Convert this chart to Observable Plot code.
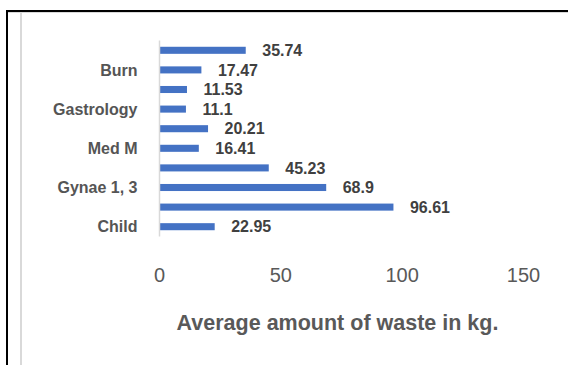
<!DOCTYPE html>
<html>
<head>
<meta charset="utf-8">
<script src="https://cdn.jsdelivr.net/npm/d3@7"></script>
<script src="https://cdn.jsdelivr.net/npm/@observablehq/plot@0.6"></script>
<style>
  html, body { margin: 0; padding: 0; background: #fff; }
  #wrap { position: relative; width: 568px; height: 365px; overflow: hidden; font-family: "Liberation Sans", Arial, sans-serif; }
  .frame-top { position: absolute; left: 6px; top: 10px; width: 562px; height: 2px; background: #000; }
  .frame-left { position: absolute; left: 6px; top: 10px; width: 2px; height: 355px; background: #000; }
  .inner-top { position: absolute; left: 8px; top: 12px; width: 560px; height: 1px; background: #d9d9d9; }
  .inner-left { position: absolute; left: 20px; top: 12px; width: 2px; height: 353px; background: #d9d9d9; }
  #chart { position: absolute; left: 0; top: 0; }
</style>
</head>
<body>
<div id="wrap">
  <div class="frame-top"></div>
  <div class="frame-left"></div>
  <div class="inner-top"></div>
  <div class="inner-left"></div>
  <div id="chart"></div>
</div>
<script>
// Categories from bottom to top (only every other label is shown in the original)
const categories = ["Child", "", "Gynae 1, 3", "", "Med M", "", "Gastrology", "", "Burn", ""];
const values = [22.95, 96.61, 68.9, 45.23, 16.41, 20.21, 11.1, 11.53, 17.47, 35.74];
const xTicks = [0, 50, 100, 150];
const axisTitle = "Average amount of waste in kg.";

const data = values.map((v, i) => ({ i, label: categories[i], v }));

const chart = Plot.plot({
  width: 568,
  height: 365,
  marginLeft: 159,
  marginRight: 45,
  marginTop: 40.5,
  marginBottom: 128.5,
  style: { fontFamily: "'Liberation Sans', Arial, sans-serif", color: "#595959", background: "transparent" },
  x: { domain: [0, 150], ticks: xTicks },
  y: { type: "band", domain: d3.range(values.length - 1, -1, -1), paddingInner: 0.64, paddingOuter: 0.32, round: false },
  marks: [
    Plot.barX(data, { x: "v", y: "i", fill: "#4472C4" }),
    Plot.ruleX([0], { stroke: "#d9d9d9", strokeWidth: 1.5 }),
    Plot.text(data, {
      x: "v", y: "i", text: d => String(d.v), dx: 16, textAnchor: "start",
      fontWeight: "bold", fontSize: 16, fill: "#404040"
    }),
    Plot.axisY({ tickSize: 0, tickPadding: 22, tickFormat: i => categories[i], fontSize: 16, fontWeight: "bold", fill: "#555555", label: null }),
    Plot.axisX({ ticks: xTicks, tickSize: 0, tickPadding: 31, fontSize: 20, label: null }),
    Plot.text([axisTitle], {
      frameAnchor: "bottom", dy: 86, dx: -4, lineAnchor: "middle", text: d => d,
      fontSize: 21.5, fontWeight: "bold", fill: "#595959"
    })
  ]
});
document.getElementById("chart").appendChild(chart);
</script>
</body>
</html>
